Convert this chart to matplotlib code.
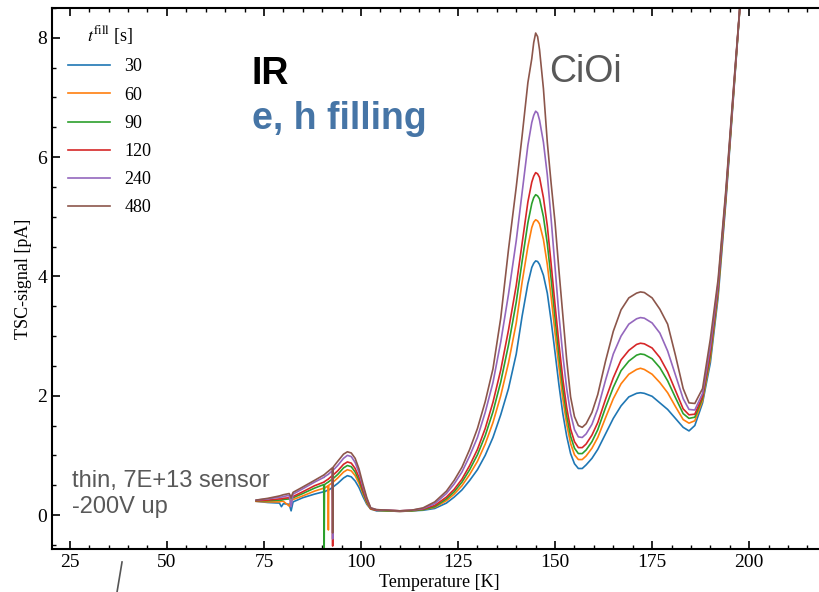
import numpy as np
import matplotlib
matplotlib.use("Agg")
import matplotlib.pyplot as plt
from matplotlib.lines import Line2D

plt.rcParams['font.family'] = ['Liberation Serif', 'DejaVu Serif']
plt.rcParams['mathtext.fontset'] = 'stix'

# temperature grid [K]
temperature = [73, 76, 79, 79.5, 80, 81.5, 82, 82.5, 85, 88,
               90.4, 90.5, 90.6, 91.5, 91.6, 91.7, 92.6, 92.7, 92.8, 94,
               95.5, 96.5, 97.5, 98.5, 99.5, 100.5, 101.5, 102.5, 104, 107,
               110, 113, 116, 119, 122, 124, 126, 128, 130, 132,
               134, 136, 138, 140, 141.5, 143, 144, 144.5, 145, 145.5,
               146, 147, 148, 149, 150, 151, 152, 153, 154, 155,
               156, 157, 158, 159.5, 161, 163, 165, 167, 169, 171,
               172, 173, 175, 177, 179, 181, 183, 184.5, 186, 188,
               190, 192, 194, 196, 198]

fill_times = ['30', '60', '90', '120', '240', '480']

tsc_30 = [.23, .21, .20, .14, .19, .18, .07, .22, .29, .35,
          .39, .39, .39, .42, .42, .42, .46, .46, .47, .53,
          .62, .66, .64, .57, .46, .31, .18, .10, .07, .07,
          .06, .07, .08, .11, .20, .30, .42, .58, .76, 1.00,
          1.30, 1.68, 2.12, 2.70, 3.33, 3.88, 4.15, 4.22, 4.26, 4.25,
          4.20, 4.02, 3.72, 3.25, 2.72, 2.18, 1.70, 1.32, 1.03, .86,
          .78, .78, .84, .95, 1.10, 1.36, 1.62, 1.83, 1.98, 2.04,
          2.05, 2.04, 1.99, 1.88, 1.77, 1.62, 1.47, 1.41, 1.50, 1.88,
          2.55, 3.65, 5.25, 7.05, 8.85]

tsc_60 = [.23, .22, .22, .23, .23, .15, .25, .26, .32, .40,
          .45, .45, .45, .49, -.25, .50, .54, .54, .55, .62,
          .72, .76, .74, .66, .53, .36, .20, .10, .08, .07,
          .06, .07, .09, .13, .24, .35, .49, .68, .90, 1.19,
          1.55, 2.00, 2.55, 3.22, 3.90, 4.50, 4.82, 4.91, 4.95, 4.93,
          4.88, 4.62, 4.20, 3.65, 3.05, 2.48, 1.95, 1.52, 1.20, 1.01,
          .93, .93, .99, 1.12, 1.30, 1.63, 1.95, 2.20, 2.36, 2.44,
          2.46, 2.44, 2.36, 2.22, 2.05, 1.82, 1.60, 1.54, 1.58, 1.92,
          2.62, 3.72, 5.30, 7.08, 8.85]

tsc_90 = [.24, .24, .25, .25, .26, .27, .28, .29, .36, .45,
          .51, -.80, .51, .55, .55, .56, .60, .60, .61, .68,
          .79, .83, .81, .72, .58, .39, .22, .11, .08, .07,
          .07, .07, .09, .14, .27, .39, .55, .76, 1.01, 1.33,
          1.73, 2.23, 2.85, 3.57, 4.25, 4.90, 5.22, 5.32, 5.37, 5.35,
          5.30, 5.00, 4.55, 3.95, 3.30, 2.68, 2.12, 1.66, 1.32, 1.12,
          1.03, 1.03, 1.09, 1.23, 1.43, 1.80, 2.14, 2.42, 2.58, 2.68,
          2.70, 2.69, 2.62, 2.47, 2.25, 1.97, 1.70, 1.62, 1.64, 1.96,
          2.68, 3.78, 5.33, 7.10, 8.85]

tsc_120 = [.24, .25, .27, .27, .28, .29, .30, .31, .39, .49,
           .55, .55, .56, .60, .60, .61, .66, -.52, .67, .74,
           .85, .89, .87, .78, .63, .42, .24, .11, .08, .08,
           .07, .08, .10, .16, .30, .43, .60, .83, 1.10, 1.45,
           1.89, 2.43, 3.10, 3.85, 4.55, 5.25, 5.58, 5.68, 5.74, 5.72,
           5.66, 5.32, 4.85, 4.20, 3.52, 2.87, 2.28, 1.80, 1.44, 1.23,
           1.13, 1.13, 1.19, 1.34, 1.55, 1.94, 2.30, 2.60, 2.76, 2.86,
           2.88, 2.87, 2.80, 2.64, 2.40, 2.09, 1.78, 1.68, 1.69, 1.99,
           2.73, 3.82, 5.36, 7.12, 8.85]

tsc_240 = [.25, .27, .30, .30, .31, .33, .14, .35, .44, .55,
           .63, .63, .64, .68, .68, .69, .74, -.40, .75, .83,
           .95, 1.00, .98, .88, .71, .48, .27, .12, .09, .08,
           .07, .08, .11, .19, .36, .52, .72, .99, 1.30, 1.72,
           2.22, 2.90, 3.70, 4.60, 5.40, 6.20, 6.58, 6.70, 6.77, 6.74,
           6.62, 6.25, 5.70, 4.95, 4.15, 3.35, 2.68, 2.12, 1.70, 1.43,
           1.31, 1.30, 1.36, 1.52, 1.78, 2.26, 2.70, 3.00, 3.20, 3.29,
           3.31, 3.30, 3.22, 3.05, 2.75, 2.35, 1.95, 1.77, 1.76, 2.04,
           2.82, 3.88, 5.40, 7.15, 8.85]

tsc_480 = [.25, .28, .32, .33, .34, .36, .30, .38, .47, .58,
           .67, .67, .68, .73, .73, .74, .79, -.30, .80, .90,
           1.02, 1.06, 1.04, .95, .77, .52, .29, .12, .09, .08,
           .07, .08, .12, .22, .40, .58, .80, 1.10, 1.45, 1.90,
           2.45, 3.30, 4.45, 5.50, 6.35, 7.25, 7.65, 7.92, 8.08, 8.02,
           7.80, 7.15, 6.25, 5.55, 4.90, 4.10, 3.35, 2.60, 1.98, 1.65,
           1.50, 1.47, 1.53, 1.72, 2.02, 2.58, 3.08, 3.44, 3.64, 3.72,
           3.74, 3.73, 3.64, 3.45, 3.20, 2.68, 2.12, 1.88, 1.87, 2.12,
           2.95, 3.95, 5.45, 7.18, 8.85]

series = [tsc_30, tsc_60, tsc_90, tsc_120, tsc_240, tsc_480]

fig = plt.figure(figsize=(8.19, 5.92), dpi=100)
ax = fig.add_axes([0.0635, 0.0726, 0.946, 0.9139])

for label, values in zip(fill_times, series):
    ax.plot(temperature, values, lw=1.2, label=label)

ax.set_xlim(20.4, 220)
ax.set_ylim(-0.57, 8.5)
ax.set_xticks([25, 50, 75, 100, 125, 150, 175, 200])
ax.set_xticks(np.arange(25, 220, 5), minor=True)
ax.set_yticks([0, 2, 4, 6, 8])
ax.set_yticks(np.arange(-0.5, 8.6, 0.5), minor=True)
ax.tick_params(which='both', direction='in', top=True, right=True, labelsize=14)
ax.tick_params(which='major', length=6, width=1.2)
ax.tick_params(which='minor', length=3, width=1)
for s in ax.spines.values():
    s.set_linewidth(1.5)

ax.set_xlabel('Temperature [K]', fontsize=13, labelpad=2)
ax.set_ylabel('TSC-signal [pA]', fontsize=13, labelpad=4)

leg = ax.legend(title=r'$t^{\mathrm{fill}}$ [s]', loc='upper left', frameon=False,
                fontsize=13, title_fontsize=13, handlelength=2.3, handletextpad=0.8,
                labelspacing=0.62, borderaxespad=0.5, bbox_to_anchor=(0.0, 1.0))

sans = ['Liberation Sans', 'DejaVu Sans']
ax.text(71.9, 7.23, 'IR', fontsize=27, fontweight='bold', color='black',
        family=sans, va='baseline')
ax.text(71.9, 6.47, 'e, h filling', fontsize=27, fontweight='bold', color='#4675a6',
        family=sans, va='baseline')
ax.text(148.5, 7.26, 'CiOi', fontsize=27, color='#595959', family=sans, va='baseline')
ax.text(25.5, 0.47, 'thin, 7E+13 sensor', fontsize=17, color='#595959',
        family=sans, va='baseline')
ax.text(25.5, 0.03, '-200V up', fontsize=17, color='#595959',
        family=sans, va='baseline')

fig.add_artist(Line2D([0.149, 0.1429], [0.0507, 0.0], color='#555555', lw=1.2))

fig.savefig('out.png', dpi=100)
